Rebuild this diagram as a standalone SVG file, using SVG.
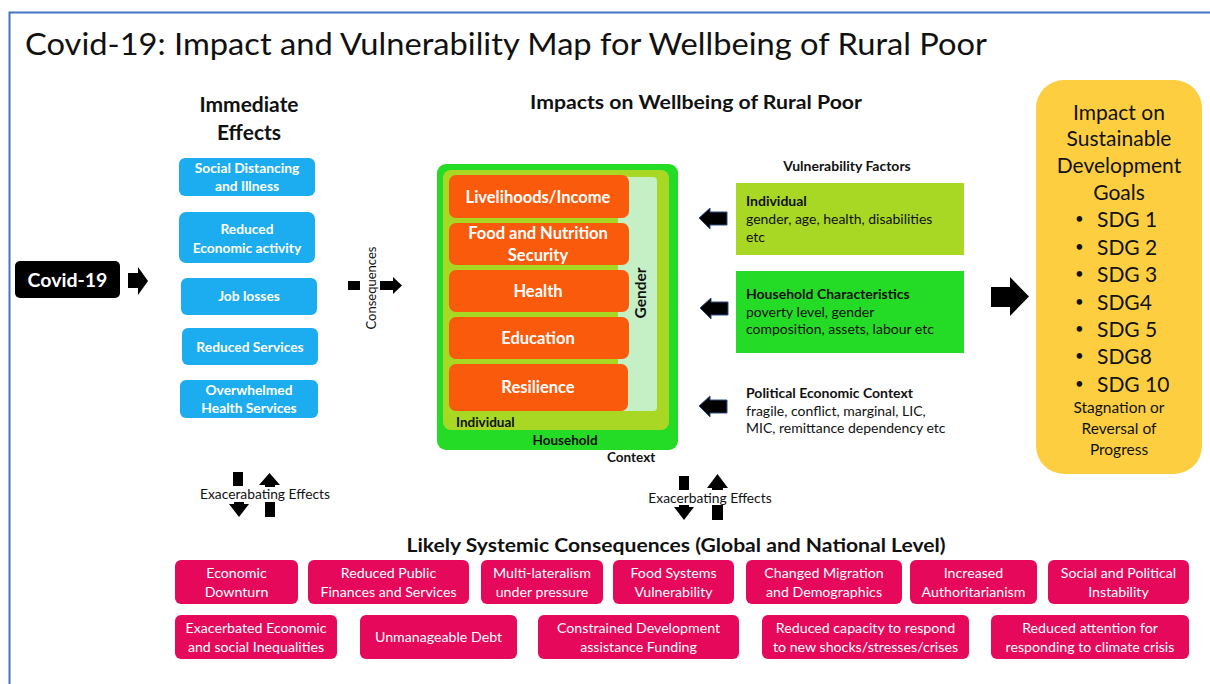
<svg xmlns="http://www.w3.org/2000/svg" width="1210" height="684" viewBox="0 0 1210 684">
  <style>
    text { font-family: Lato, "Open Sans", "Liberation Sans", sans-serif; }
    .b { font-weight: bold; }
    .mid { text-anchor: middle; }
    .wt { fill: #ffffff; }
    .blue { fill: #1CADF0; }
    .orange { fill: #FA5A0C; }
    .pink { fill: #E6085A; }
    .arrow { fill: #000000; }
    .navy { fill: #000000; stroke: #2E4C86; stroke-width: 1; }
    .eff { font-size: 13.8px; }
    .bt { font-size: 13.8px; font-weight: bold; fill: #ffffff; text-anchor: middle; }
    .ot { font-size: 16.5px; font-weight: bold; fill: #ffffff; text-anchor: middle; }
    .pt { font-size: 14.2px; fill: #ffffff; text-anchor: middle; }
    .vf { font-size: 14px; fill: #111111; }
    .sdg { font-size: 21px; fill: #111111; }
    .dot { font-size: 15px; fill: #111111; }
    .lvl { font-size: 13.5px; font-weight: bold; fill: #111111; }
  </style>
  <defs>
    <!-- small left-pointing arrow used for the vulnerability factors -->
    <polygon id="leftArrow" points="0,10 11,0 11,4 28,4 28,17 11,17 11,21"/>
  </defs>

  <rect width="1210" height="684" fill="#ffffff"/>
  <!-- slide frame -->
  <rect x="9.5" y="12.5" width="1220" height="700" fill="none" stroke="#4472C4" stroke-width="2"/>

  <text x="25" y="55" font-size="31" fill="#111111" textLength="962" lengthAdjust="spacingAndGlyphs">Covid-19: Impact and Vulnerability Map for Wellbeing of Rural Poor</text>

  <!-- Immediate effects column -->
  <g id="immediate-effects-title">
    <text x="249" y="112" font-size="21" class="b mid" fill="#111111">Immediate</text>
    <text x="249" y="140" font-size="21" class="b mid" fill="#111111">Effects</text>
  </g>

  <g id="covid19">
    <rect x="15" y="261" width="105" height="37" rx="5" fill="#000000"/>
    <text x="67.5" y="287" font-size="19.5" class="b mid wt">Covid-19</text>
  </g>

  <g id="effect-social-distancing">
    <rect x="179" y="158" width="136" height="38" rx="6" class="blue"/>
    <text x="247" y="173" class="bt">Social Distancing</text>
    <text x="247" y="191" class="bt">and Illness</text>
  </g>
  <g id="effect-economic-activity">
    <rect x="179" y="212" width="136" height="51" rx="7" class="blue"/>
    <text x="247" y="234" class="bt">Reduced</text>
    <text x="247" y="253" class="bt">Economic activity</text>
  </g>
  <g id="effect-job-losses">
    <rect x="181" y="278" width="136" height="37" rx="6" class="blue"/>
    <text x="249" y="301" class="bt">Job losses</text>
  </g>
  <g id="effect-reduced-services">
    <rect x="182" y="328" width="136" height="37" rx="6" class="blue"/>
    <text x="250" y="352" class="bt">Reduced Services</text>
  </g>
  <g id="effect-health-services">
    <rect x="180" y="380" width="138" height="38" rx="6" class="blue"/>
    <text x="249" y="395" class="bt">Overwhelmed</text>
    <text x="249" y="413" class="bt">Health Services</text>
  </g>

  <!-- Impacts on wellbeing -->
  <text x="696" y="109" font-size="18.5" class="b mid" fill="#111111" textLength="332" lengthAdjust="spacingAndGlyphs">Impacts on Wellbeing of Rural Poor</text>

  <g id="context-household">
    <rect x="437" y="164" width="241" height="286" rx="9" fill="#24DC26"/>
    <text x="565" y="445" class="lvl mid">Household</text>
  </g>
  <g id="context-individual">
    <rect x="443" y="170" width="226" height="260" rx="8" fill="#A8D824"/>
    <text x="456" y="427" class="lvl">Individual</text>
  </g>
  <text x="607" y="462" class="lvl">Context</text>
  <g id="gender">
    <rect x="618" y="177" width="39" height="234" rx="4" fill="#C5EFC4"/>
    <text transform="translate(640 293) rotate(-90)" font-size="15.5" class="b mid" fill="#111111" dominant-baseline="central">Gender</text>
  </g>

  <g id="impact-livelihoods">
    <rect x="449" y="175" width="180" height="43" rx="7" class="orange"/>
    <text x="538" y="203" class="ot">Livelihoods/Income</text>
  </g>
  <g id="impact-food">
    <rect x="449" y="223" width="180" height="42" rx="7" class="orange"/>
    <text x="538" y="239" class="ot">Food and Nutrition</text>
    <text x="538" y="261" class="ot">Security</text>
  </g>
  <g id="impact-health">
    <rect x="449" y="270" width="180" height="42" rx="7" class="orange"/>
    <text x="538" y="297" class="ot">Health</text>
  </g>
  <g id="impact-education">
    <rect x="449" y="317" width="180" height="42" rx="7" class="orange"/>
    <text x="538" y="344" class="ot">Education</text>
  </g>
  <g id="impact-resilience">
    <rect x="449" y="364" width="179" height="47" rx="7" class="orange"/>
    <text x="538" y="393" class="ot">Resilience</text>
  </g>

  <!-- Vulnerability factors -->
  <text x="847" y="171" font-size="14" class="b mid" fill="#111111">Vulnerability Factors</text>
  <g id="vf-individual">
    <rect x="736" y="183" width="228" height="72" fill="#A8D824"/>
    <text x="746" y="206" class="vf b">Individual</text>
    <text x="746" y="224" class="vf">gender, age, health, disabilities</text>
    <text x="746" y="242" class="vf">etc</text>
  </g>
  <g id="vf-household">
    <rect x="736" y="271" width="228" height="82" fill="#24DC26"/>
    <text x="746" y="299" class="vf b">Household Characteristics</text>
    <text x="746" y="317" class="vf">poverty level, gender</text>
    <text x="746" y="334" class="vf">composition, assets, labour etc</text>
  </g>
  <g id="vf-political">
    <text x="746" y="398" class="vf b">Political Economic Context</text>
    <text x="746" y="416" class="vf">fragile, conflict, marginal, LIC,</text>
    <text x="746" y="433" class="vf">MIC, remittance dependency etc</text>
  </g>

  <!-- SDG panel -->
  <g id="sdg-impact">
    <rect x="1036" y="80" width="166" height="394" rx="28" fill="#FDCF40"/>
    <text x="1119" y="120" class="sdg mid">Impact on</text>
    <text x="1119" y="146" class="sdg mid">Sustainable</text>
    <text x="1119" y="173" class="sdg mid">Development</text>
    <text x="1119" y="200" class="sdg mid">Goals</text>
    <g>
      <text x="1075" y="224" class="dot">•</text><text x="1097" y="227" class="sdg">SDG 1</text>
      <text x="1075" y="252" class="dot">•</text><text x="1097" y="255" class="sdg">SDG 2</text>
      <text x="1075" y="279" class="dot">•</text><text x="1097" y="282" class="sdg">SDG 3</text>
      <text x="1075" y="307" class="dot">•</text><text x="1097" y="310" class="sdg">SDG4</text>
      <text x="1075" y="334" class="dot">•</text><text x="1097" y="337" class="sdg">SDG 5</text>
      <text x="1075" y="361" class="dot">•</text><text x="1097" y="364" class="sdg">SDG8</text>
      <text x="1075" y="389" class="dot">•</text><text x="1097" y="392" class="sdg">SDG 10</text>
    </g>
    <text x="1119" y="413" font-size="15.5" class="mid" fill="#111111">Stagnation or</text>
    <text x="1119" y="434" font-size="15.5" class="mid" fill="#111111">Reversal of</text>
    <text x="1119" y="455" font-size="15.5" class="mid" fill="#111111">Progress</text>
  </g>

  <!-- Systemic consequences -->
  <text x="676" y="552" font-size="18.5" class="b mid" fill="#111111" textLength="539" lengthAdjust="spacingAndGlyphs">Likely Systemic Consequences (Global and National Level)</text>

  <g id="sc-economic-downturn">
    <rect x="175" y="560" width="123" height="44" rx="6" class="pink"/>
    <text x="236.5" y="578" class="pt">Economic</text>
    <text x="236.5" y="597" class="pt">Downturn</text>
  </g>
  <g id="sc-public-finances">
    <rect x="308" y="560" width="161" height="44" rx="6" class="pink"/>
    <text x="388.5" y="578" class="pt">Reduced Public</text>
    <text x="388.5" y="597" class="pt">Finances and Services</text>
  </g>
  <g id="sc-multilateralism">
    <rect x="481" y="560" width="122" height="44" rx="6" class="pink"/>
    <text x="542" y="578" class="pt">Multi-lateralism</text>
    <text x="542" y="597" class="pt">under pressure</text>
  </g>
  <g id="sc-food-systems">
    <rect x="613" y="560" width="121" height="44" rx="6" class="pink"/>
    <text x="673.5" y="578" class="pt">Food Systems</text>
    <text x="673.5" y="597" class="pt">Vulnerability</text>
  </g>
  <g id="sc-migration">
    <rect x="746" y="560" width="156" height="44" rx="6" class="pink"/>
    <text x="824" y="578" class="pt">Changed Migration</text>
    <text x="824" y="597" class="pt">and Demographics</text>
  </g>
  <g id="sc-authoritarianism">
    <rect x="910" y="560" width="127" height="44" rx="6" class="pink"/>
    <text x="973.5" y="578" class="pt">Increased</text>
    <text x="973.5" y="597" class="pt">Authoritarianism</text>
  </g>
  <g id="sc-instability">
    <rect x="1048" y="560" width="141" height="44" rx="6" class="pink"/>
    <text x="1118.5" y="578" class="pt">Social and Political</text>
    <text x="1118.5" y="597" class="pt">Instability</text>
  </g>
  <g id="sc-inequalities">
    <rect x="175" y="615" width="162" height="44" rx="6" class="pink"/>
    <text x="256" y="633" class="pt">Exacerbated Economic</text>
    <text x="256" y="652" class="pt">and social Inequalities</text>
  </g>
  <g id="sc-debt">
    <rect x="360" y="615" width="157" height="44" rx="6" class="pink"/>
    <text x="438.5" y="642" class="pt">Unmanageable Debt</text>
  </g>
  <g id="sc-development-funding">
    <rect x="538" y="615" width="201" height="44" rx="6" class="pink"/>
    <text x="638.5" y="633" class="pt">Constrained Development</text>
    <text x="638.5" y="652" class="pt">assistance Funding</text>
  </g>
  <g id="sc-shocks">
    <rect x="762" y="615" width="207" height="44" rx="6" class="pink"/>
    <text x="865.5" y="633" class="pt">Reduced capacity to respond</text>
    <text x="865.5" y="652" class="pt">to new shocks/stresses/crises</text>
  </g>
  <g id="sc-climate">
    <rect x="991" y="615" width="198" height="44" rx="6" class="pink"/>
    <text x="1090" y="633" class="pt">Reduced attention for</text>
    <text x="1090" y="652" class="pt">responding to climate crisis</text>
  </g>

  <!-- Connectors -->
  <g id="connectors">
    <!-- Covid-19 to immediate effects -->
    <polygon class="arrow" points="128,273 138,273 138,267 148,281 138,295 138,288 128,288"/>
    <!-- consequences -->
    <rect class="arrow" x="348" y="281" width="12" height="9"/>
    <polygon class="arrow" points="380,281 393,281 393,277 402,285.5 393,294 393,290 380,290"/>
    <text transform="translate(371 288) rotate(-90)" font-size="13" class="mid" fill="#111111" dominant-baseline="central">Consequences</text>

    <!-- vulnerability factors into the impacts -->
    <use href="#leftArrow" class="navy" x="699" y="208"/>
    <use href="#leftArrow" class="navy" x="700" y="298"/>
    <use href="#leftArrow" class="navy" x="699" y="396"/>

    <!-- impacts to SDGs -->
    <polygon class="arrow" points="991,287 1010,287 1010,277 1029,296.5 1010,316 1010,307 991,307"/>

    <!-- exacerbating effects, left -->
    <rect class="arrow" x="233" y="472" width="10" height="14"/>
    <polygon class="arrow" points="259,485 269.5,473 280,485 275,485 275,487 265,487 265,485"/>
    <polygon class="arrow" points="229,504 234,504 234,502 244,502 244,504 249,504 239,517"/>
    <rect class="arrow" x="265" y="502" width="10" height="15"/>
    <text x="265" y="499" class="eff mid" fill="#111111">Exacerabating Effects</text>

    <!-- exacerbating effects, centre -->
    <rect class="arrow" x="679" y="476" width="10" height="14"/>
    <polygon class="arrow" points="707,488 717.5,474 728,488 723,488 723,490 712,490 712,488"/>
    <polygon class="arrow" points="674,507 679,507 679,505 689,505 689,507 694,507 684,520"/>
    <rect class="arrow" x="712" y="505" width="11" height="15"/>
    <text x="710" y="503" class="eff mid" fill="#111111">Exacerbating Effects</text>
  </g>
</svg>
